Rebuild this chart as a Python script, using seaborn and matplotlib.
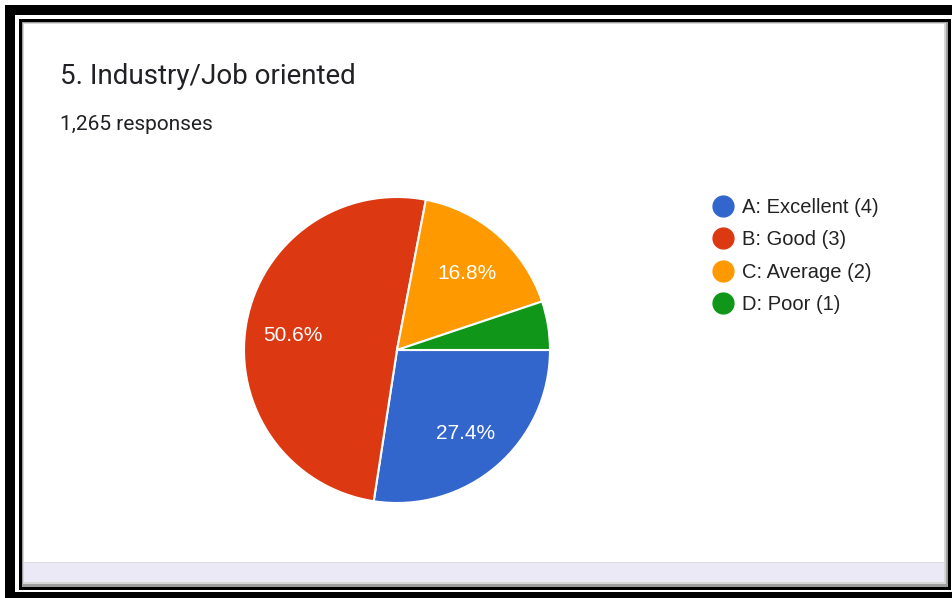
import matplotlib
matplotlib.use("Agg")
import matplotlib.pyplot as plt
import seaborn as sns
from matplotlib.patches import Rectangle
from matplotlib.lines import Line2D

# data (1,265 responses)
categories = ["A: Excellent (4)", "B: Good (3)", "C: Average (2)", "D: Poor (1)"]
counts = [347, 640, 213, 65]
colors = ["#3366cc", "#dc3912", "#ff9900", "#109618"]
title = "5. Industry/Job oriented"
subtitle = "1,265 responses"

sns.set_theme(style="white")
plt.rcParams['font.family'] = ['Liberation Sans', 'DejaVu Sans']

W, H = 953, 598
fig = plt.figure(figsize=(W / 100, H / 100), dpi=100)
fig.patch.set_facecolor("white")


def px_rect(x0, y0, x1, y1, color, z=0):
    # rectangle given in pixel coords, origin top-left
    fig.add_artist(Rectangle((x0 / W, 1 - y1 / H), (x1 - x0) / W, (y1 - y0) / H,
                             transform=fig.transFigure, facecolor=color,
                             edgecolor="none", zorder=z))


# screenshot frame
px_rect(5, 5, 953, 15, "black")
px_rect(5, 5, 15, 598, "black")
px_rect(5, 592, 953, 598, "black")
px_rect(19, 19, 951, 590, "black")
px_rect(22, 22, 948, 587, "#9e9e9e")
px_rect(23, 23, 946, 584, "#d6d6d6")
px_rect(24, 24, 944, 582, "white")
px_rect(24, 562, 944, 582, "#ece9f6")
px_rect(24, 562, 944, 563, "#dadce0")

fig.text(60 / W, 1 - 77 / H, title, fontsize=20, color="#202124",
         family=["Roboto", "DejaVu Sans"], va="center", ha="left")
fig.text(60 / W, 1 - 125 / H, subtitle, fontsize=15, color="#202124",
         family=["Roboto", "DejaVu Sans"], va="center", ha="left")

# pie
cx, cy, r = 397, 350, 153
ax = fig.add_axes([(cx - r) / W, 1 - (cy + r) / H, 2 * r / W, 2 * r / H])
wedges, texts, autotexts = ax.pie(
    counts, colors=colors, startangle=0, counterclock=False,
    autopct=lambda p: f"{p:.1f}%" if p > 6 else "",
    pctdistance=0.69,
    wedgeprops=dict(edgecolor="white", linewidth=1.5),
    textprops=dict(color="white", fontsize=15),
)
for t in autotexts:
    x, y = t.get_position()
    t.set_position((x, y - 0.02))
ax.set_xlim(-1, 1)
ax.set_ylim(-1, 1)
ax.set_aspect("equal")
ax.axis("off")

handles = [Line2D([0], [0], marker="o", linestyle="none", markersize=15,
                  markerfacecolor=c, markeredgecolor=c) for c in colors]
fig.legend(handles, categories, loc="upper left",
           bbox_to_anchor=(705 / W, 1 - 190 / H), frameon=False,
           fontsize=14.5, labelspacing=0.66, handletextpad=0.45,
           handlelength=1.0, labelcolor="#222222", borderaxespad=0)

fig.savefig("out.png", dpi=100)
